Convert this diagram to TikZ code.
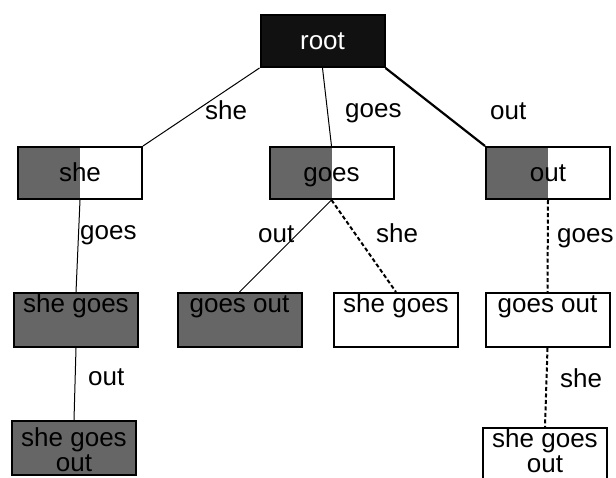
\documentclass[tikz,border=0pt]{standalone}
\usepackage{fontspec}
\setmainfont{Liberation Sans}
\usetikzlibrary{positioning}
\definecolor{boxgray}{HTML}{666666}
\definecolor{rootblack}{HTML}{111111}
\tikzset{
	box/.style={draw, line width=2pt, anchor=north, minimum width=124pt, inner sep=0pt, text height=34pt, text depth=18pt},
	lowbox/.style={box, text height=19pt, text depth=35pt},
	leafbox/.style={box, align=center, text height=50pt, text depth=4pt},
	half/.style={path picture={\fill[boxgray] (path picture bounding box.south west) rectangle (path picture bounding box.north);}},
	edgelabel/.style={anchor=base west, inner sep=0pt},
	link/.style={line width=1pt},
	heavylink/.style={line width=2.2pt},
	dotlink/.style={line width=2pt, dash pattern=on 4pt off 2.5pt},
}
\begin{document}
\begin{tikzpicture}[x=1pt, y=-1pt, font=\fontsize{26}{25}\selectfont]
	\useasboundingbox (0,0) rectangle (616,477);
	% top
	\node[box, fill=rootblack, text=white] (root) at (322.5,14) {root};
	% first level
	\node[box, half] (she) at (80,146) {she};
	\node[box, half] (goes) at (331.5,146) {goes};
	\node[box, half] (out) at (548,146) {out};
	% second level
	\node[lowbox, fill=boxgray] (sheGoes) at (76,292) {she goes};
	\node[lowbox, fill=boxgray] (goesOut) at (239.5,292) {goes out};
	\node[lowbox] (sheGoesB) at (396,292) {she goes};
	\node[lowbox] (goesOutB) at (547.5,292) {goes out};
	% third level
	\node[leafbox, fill=boxgray] (sheGoesOut) at (74,420) {she goes\\out};
	\node[leafbox, text height=44pt, text depth=10pt] (sheGoesOutB) at (545,427) {she goes\\out};
	% edges
	\draw[link] (root.south west) -- (she.north east);
	\draw[link] (root.south) -- (goes.north);
	\draw[heavylink] (root.south east) -- (out.north west);
	\draw[link] (she.south) -- (sheGoes.north);
	\draw[link] (goes.south) -- (goesOut.north);
	\draw[dotlink] (goes.south) -- (sheGoesB.north);
	\draw[dotlink] (out.south) -- (goesOutB.north);
	\draw[link] (sheGoes.south) -- (sheGoesOut.north);
	\draw[dotlink] (goesOutB.south) -- (sheGoesOutB.north);
	% labels
	\node[edgelabel] (lShe) at (205,119) {she};
	\node[edgelabel] (lGoes) at (345,117) {goes};
	\node[edgelabel] (lOut) at (490,119) {out};
	\node[edgelabel] (lGoesA) at (80,239) {goes};
	\node[edgelabel] (lOutA) at (258,242) {out};
	\node[edgelabel] (lSheA) at (376,242) {she};
	\node[edgelabel] (lGoesB) at (557,242) {goes};
	\node[edgelabel] (lOutB) at (88,385) {out};
	\node[edgelabel] (lSheB) at (560,387) {she};
\end{tikzpicture}
\end{document}
